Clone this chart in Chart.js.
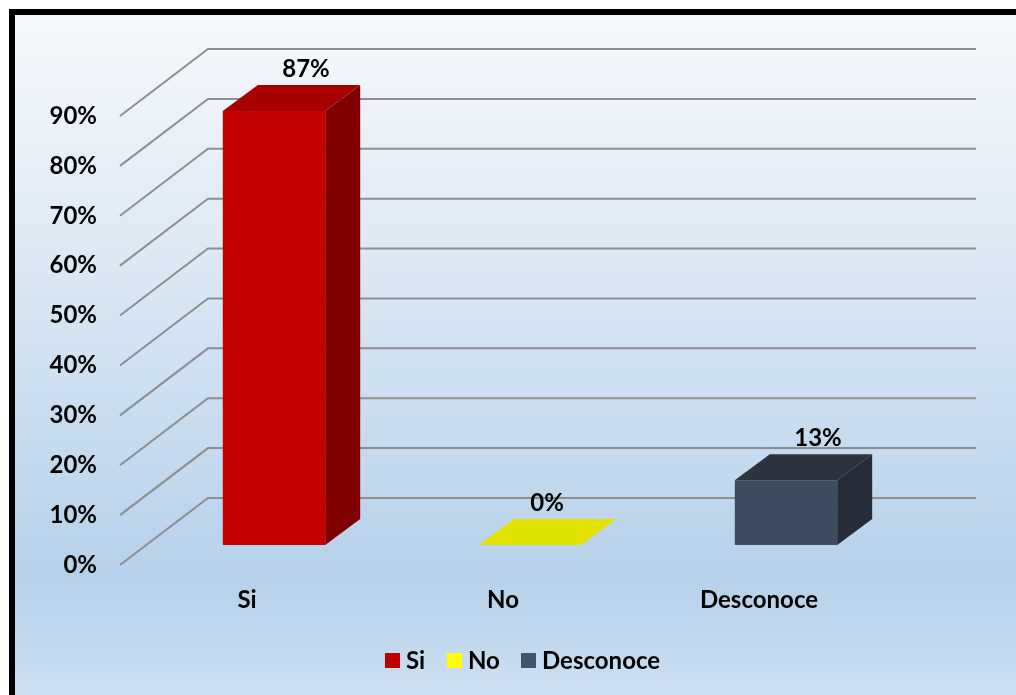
<!DOCTYPE html>
<html>
<head>
<meta charset="utf-8">
<script src="https://cdn.jsdelivr.net/npm/chart.js@4"></script>
<style>
  html, body { margin: 0; padding: 0; width: 1016px; height: 695px; overflow: hidden; background: #fff; }
  #frame {
    position: absolute; left: 9px; top: 9px; width: 1100px; height: 800px;
    border-left: 6px solid #000; border-top: 6px solid #000;
    background: linear-gradient(to bottom, #f6f9fc 0px, #dce8f4 250px, #b6d1ea 560px, #c4daef 640px, #d0e2f3 686px);
  }
  #chartBox { position: absolute; left: 0; top: 0; width: 1016px; height: 695px; }
</style>
</head>
<body>
<div id="frame"></div>
<div id="chartBox"><canvas id="myChart"></canvas></div>
<script>
const categories = ['Si', 'No', 'Desconoce'];
const values = [87, 0, 13];
const tickValues = [0, 10, 20, 30, 40, 50, 60, 70, 80, 90];

const frontColors = ['#c40000', '#d2d200', '#3e4b5f'];
const topColors = ['#a80000', '#e2e200', '#2c3442'];
const sideColors = ['#800000', '#bcbc00', '#252d3a'];
const legendColors = ['#c00000', '#ffff00', '#44546a'];

const FONT = 'Lato, "Open Sans", sans-serif';

// depth offsets (pixels) for the pseudo 3D look
const wallDx = 62, wallDy = -47;     // bar plane -> back wall
const frontDx = -26, frontDy = 20;   // bar plane -> front edge of floor
const barDx = 35, barDy = -26;       // bar depth

const threeD = {
    id: 'threeD',
    beforeDatasetsDraw(chart) {
        const ctx = chart.ctx;
        const y = chart.scales.y;
        const area = chart.chartArea;
        ctx.save();
        tickValues.forEach(v => {
            const py = y.getPixelForValue(v);
            ctx.strokeStyle = '#8e8e8e';
            ctx.lineWidth = 2;
            ctx.beginPath();
            ctx.moveTo(area.left + frontDx, py + frontDy);
            ctx.lineTo(area.left + wallDx, py + wallDy);
            ctx.lineTo(area.right + wallDx, py + wallDy);
            ctx.stroke();

            ctx.fillStyle = '#000';
            ctx.font = 'bold 24px ' + FONT;
            ctx.textAlign = 'right';
            ctx.textBaseline = 'middle';
            ctx.fillText(v + '%', 97, py + frontDy);
        });

        const x = chart.scales.x;
        ctx.font = 'bold 24px ' + FONT;
        ctx.textAlign = 'center';
        ctx.textBaseline = 'middle';
        categories.forEach((c, i) => {
            ctx.fillText(c, x.getPixelForValue(i) + frontDx - 1, y.getPixelForValue(0) + 55);
        });
        ctx.restore();
    },
    afterDatasetsDraw(chart) {
        const ctx = chart.ctx;
        const meta = chart.getDatasetMeta(0);
        ctx.save();
        meta.data.forEach((bar, i) => {
            const p = bar.getProps(['x', 'y', 'base', 'width'], true);
            const l = p.x - p.width / 2, r = p.x + p.width / 2;
            const t = p.y, b = p.base;
            // top face
            ctx.fillStyle = topColors[i];
            ctx.beginPath();
            ctx.moveTo(l, t);
            ctx.lineTo(l + barDx, t + barDy);
            ctx.lineTo(r + barDx, t + barDy);
            ctx.lineTo(r, t);
            ctx.closePath();
            ctx.fill();
            // right side face
            if (b - t > 0.5) {
                ctx.fillStyle = sideColors[i];
                ctx.beginPath();
                ctx.moveTo(r, t);
                ctx.lineTo(r + barDx, t + barDy);
                ctx.lineTo(r + barDx, b + barDy);
                ctx.lineTo(r, b);
                ctx.closePath();
                ctx.fill();
            }
            // value label
            ctx.fillStyle = '#000';
            ctx.font = 'bold 24px ' + FONT;
            ctx.textAlign = 'center';
            ctx.textBaseline = 'middle';
            const shift = values[i] > 0 ? barDx - 3 : 17;
            ctx.fillText(values[i] + '%', p.x + shift, t + barDy - 16);
        });

        // legend
        const items = [[385, 'Si'], [447, 'No'], [521, 'Desconoce']];
        ctx.font = 'bold 24px ' + FONT;
        ctx.textAlign = 'left';
        ctx.textBaseline = 'middle';
        items.forEach((it, i) => {
            ctx.fillStyle = legendColors[i];
            ctx.fillRect(it[0], 653, 15, 15);
            ctx.fillStyle = '#000';
            ctx.fillText(it[1], it[0] + 21, 661);
        });
        ctx.restore();
    }
};

new Chart(document.getElementById('myChart'), {
    type: 'bar',
    data: {
        labels: categories,
        datasets: [{
            label: 'Respuesta',
            data: values,
            backgroundColor: frontColors,
            borderWidth: 0,
            barPercentage: 0.8,
            categoryPercentage: 0.5
        }]
    },
    options: {
        responsive: true,
        maintainAspectRatio: false,
        animation: false,
        layout: { padding: { left: 146, right: 102, top: 96, bottom: 150 } },
        scales: {
            x: { display: false },
            y: { display: false, min: 0, max: 90 }
        },
        plugins: {
            legend: { display: false },
            tooltip: { enabled: false }
        }
    },
    plugins: [threeD]
});
</script>
</body>
</html>
